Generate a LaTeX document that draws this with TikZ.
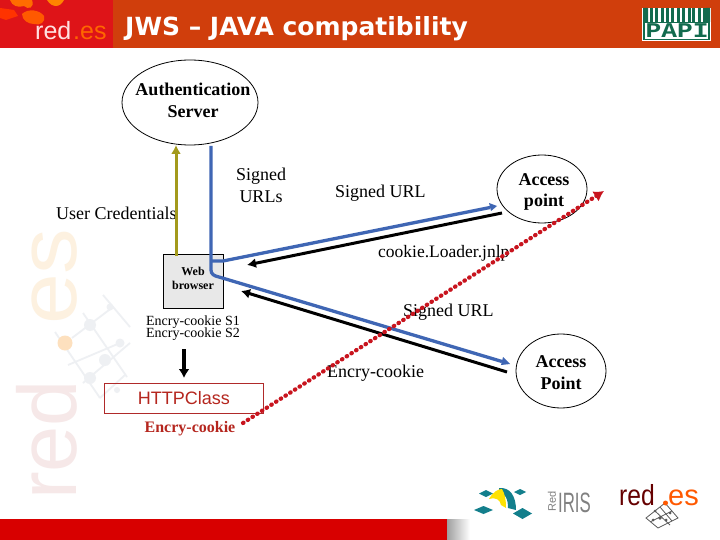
\documentclass[tikz,border=0pt]{standalone}
\usepackage{fontspec}
\setmainfont{Liberation Serif}
\setsansfont{Liberation Sans}
\setmonofont{Liberation Mono}
\newfontfamily\titlefont{DejaVu Sans}
\usetikzlibrary{arrows.meta,shapes.geometric,calc}
\definecolor{hdr}{HTML}{D03E0C}
\definecolor{logored}{HTML}{DE1418}
\definecolor{bandred}{HTML}{D80000}
\definecolor{blueline}{HTML}{3F66B4}
\definecolor{olive}{HTML}{A39A1C}
\definecolor{dotred}{HTML}{C8141E}
\definecolor{boxred}{HTML}{B02A2A}
\definecolor{textred}{HTML}{B5261E}
\definecolor{teal2}{HTML}{137F8C}
\definecolor{papi}{HTML}{136B4E}
\definecolor{wmorange}{HTML}{FDF1E0}
\definecolor{wmred}{HTML}{F6E8E8}
\definecolor{wmgray}{HTML}{EEF0F3}
\tikzset{
  x=1pt,y=-1pt,
  lbl/.style={inner sep=0pt,align=center,font=\fontsize{18}{22}\selectfont},
  lblb/.style={lbl,font=\fontsize{18}{21}\selectfont\bfseries},
  small/.style={inner sep=0pt,font=\fontsize{14}{14}\selectfont},
  ell/.style={draw=black,fill=white,ellipse,inner sep=0pt,line width=0.8pt},
  blueconn/.style={draw=blueline,line width=3.3pt},
  blackarrow/.style={draw=black,line width=3pt,-{Latex[length=9pt,width=10pt]}},
  dotarrow/.style={draw=dotred,line width=4.2pt,line cap=round,dash pattern=on 0.6pt off 5pt,-{Latex[length=10pt,width=12pt,color=dotred,fill=dotred]}},
}
\begin{document}
\begin{tikzpicture}
\useasboundingbox (0,0) rectangle (720,540);
\fill[white] (0,0) rectangle (720,540);
% header
\fill[hdr] (0,0) rectangle (720,48);
\fill[logored] (0,0) rectangle (113,48);
\fill[orange!85!yellow!90!red] (47,0) .. controls (52,8) and (60,8) .. (64,0) -- cycle;
\fill[orange!85!red] (10,0) .. controls (12,6) and (18,8) .. (24,6) .. controls (28,10) and (35,8) .. (32,0) -- cycle;
\fill[orange!70!red] (22,14) .. controls (28,8) and (40,10) .. (44,16) .. controls (46,22) and (40,26) .. (34,24) .. controls (28,24) and (22,20) .. (22,14) -- cycle;
\fill[orange!40!red] (0,8) -- (14,10) -- (18,16) -- (6,20) -- (0,18) -- cycle;
\node[inner sep=0pt,text=white!88!red,font=\sffamily\fontsize{25}{25}\selectfont,anchor=base west] (logoa) at (35,40) {red};
\node[inner sep=0pt,text=orange!80!red,font=\sffamily\fontsize{25}{25}\selectfont,anchor=base west] (logob) at (73,40) {.es};
\node[inner sep=0pt,text=white,font=\titlefont\bfseries\fontsize{25}{25}\selectfont,anchor=base west] (title) at (125,36) {JWS – JAVA compatibility};
% PAPI logo
\fill[white] (642,8) rectangle (711,41);
\foreach \xx in {650,655,661,666,671,677,682,688,692,698,703}{\fill[papi] (\xx,8) rectangle ++(2.6,14);}
\fill[papi] (643,8) rectangle (648,22) (706,8) rectangle (710,22);
\draw[papi,line width=1.6pt] (644,22) -- (644,39.5) -- (709,39.5) -- (709,22);
\draw[papi,line width=1pt] (644,23) -- (709,23);
\node[inner sep=0pt,text=papi,font=\ttfamily\bfseries\fontsize{21}{21}\selectfont,anchor=base] (papi) at (677,38) {\scalebox{1.25}[1]{PAPI}};
% watermark
\node[rotate=90,inner sep=0pt,anchor=base west,text=wmorange,font=\sffamily\fontsize{83}{83}\selectfont] (wmes) at (76,325) {\scalebox{1.1}[1]{es}};
\node[rotate=90,inner sep=0pt,anchor=base west,text=wmred,font=\sffamily\fontsize{83}{83}\selectfont] (wmr) at (76,500) {red};
\draw[wmgray,line width=1.8pt] (55,332) -- (100,398) (83,313) -- (127,377) (103,295) -- (130,327) (72,338) -- (113,307) (83,383) -- (130,343) (100,398) -- (125,375) (68,365) -- (120,343);
\fill[wmgray] (90,325) circle (6) (105,360) circle (6) (90,378) circle (6) (110,307) circle (3.5) (120,343) circle (4.5) (117,390) circle (3);
\fill[wmorange!85!orange] (65,343) circle (7.5);
% bottom
\fill[bandred] (0,519) rectangle (447,540);
\shade[left color=gray!75,right color=white] (447,519) rectangle (470,540);
% bottom logos
\fill[teal2] (479,493.5) -- (486,490) -- (493,493.5) -- (486,497) -- cycle
 (474,510) -- (483.5,506) -- (493,510) -- (483.5,514) -- cycle
 (513,513.5) -- (522.5,508) -- (532,513.5) -- (522.5,519) -- cycle
 (514,492) -- (520,489) -- (526,492) -- (520,495) -- cycle;
\fill[teal2] (499,488) .. controls (510,487) and (516,496) .. (516,510) -- (508,508) .. controls (508,498) and (505,494) .. (499,492) -- cycle;
\fill[yellow!85!orange] (489,499) .. controls (493,492) and (498,489) .. (502,489) .. controls (505,494) and (506,500) .. (506,508) -- (501,505) .. controls (500,500) and (497,497) .. (489,499) -- cycle;
\node[rotate=90,inner sep=0pt,text=gray,font=\sffamily\fontsize{11}{11}\selectfont] (lred) at (552,501) {Red};
\node[inner sep=0pt,text=gray,font=\sffamily\fontsize{28}{28}\selectfont,anchor=base] (liris) at (574.5,512) {\scalebox{.6}[1]{IRIS}};
\node[inner sep=0pt,text=red!40!black,font=\sffamily\fontsize{29}{29}\selectfont,anchor=base west] (lr2) at (619,505) {\scalebox{.85}[1]{red}};
\node[inner sep=0pt,text=orange!70!red,font=\sffamily\fontsize{29}{29}\selectfont,anchor=base west] (le2) at (668,505) {es};
\draw[gray!70!black,line width=.8pt] (646,518) -- (665,503) -- (678,518) -- (658,528) -- cycle (655,511) -- (670,525) (660,507) -- (672,521) (650,522) -- (672,511);
\fill[gray!70!black] (655,511) circle (1.5) (660,518) circle (1.8) (670,513) circle (1.5) (666,520) circle (1.5) (653,520) circle (1.5);
\fill[orange!70!red] (665.5,503) circle (2.5);
% nodes
\node[ell,minimum width=136pt,minimum height=85pt] (auth) at (190,102.5) {};
\node[lblb,font=\fontsize{18}{22}\selectfont\bfseries] (authtxt) at (193,100) {Authentication\\Server};
\node[ell,minimum width=90pt,minimum height=68pt] (ap1) at (542,189) {};
\node[lblb] (ap1txt) at (544,192) {Access\\point};
\node[ell,minimum width=90pt,minimum height=74pt] (ap2) at (561,371) {};
\node[lblb,font=\fontsize{18}{22}\selectfont\bfseries] (ap2txt) at (561,373) {Access\\Point};
\node[draw=black,fill=gray!18,line width=.8pt,minimum width=60pt,minimum height=54pt,inner sep=0pt] (web) at (193,281) {};
\node[lbl,font=\fontsize{12}{14}\selectfont\bfseries] (webtxt) at (193,278) {Web\\browser};
\node[draw=boxred,line width=.9pt,minimum width=159pt,minimum height=30pt,inner sep=0pt] (http) at (184,398) {};
\node[inner sep=0pt,text=textred,font=\sffamily\fontsize{18}{18}\selectfont] (httptxt) at (184,398) {HTTPClass};
% labels
\node[lbl] (signedurls) at (261,185) {Signed\\URLs};
\node[lbl,anchor=west] (usercred) at (56,213) {User Credentials};
\node[lbl,anchor=west] (surl1) at (335,193) {Signed URL};
\node[lbl,anchor=west,font=\fontsize{17.5}{22}\selectfont] (jnlp) at (378,253) {cookie.Loader.jnlp};
\node[lbl,anchor=west] (surl2) at (403,312) {Signed URL};
\node[lbl,anchor=west] (encry) at (327,373) {Encry-cookie};
\node[small,anchor=base] (s1) at (193,325) {Encry-cookie S1};
\node[small,anchor=base] (s2) at (193,337) {Encry-cookie S2};
\node[lbl,font=\fontsize{16}{16}\selectfont\bfseries,text=textred] (encred) at (190,429) {Encry-cookie};
% connectors
\coordinate (oliveS) at (176,256);
\coordinate (oliveE) at (176,145);
\draw[draw=olive,line width=3pt,-{Latex[length=9pt,width=10pt]}] (oliveS) -- (oliveE);
\coordinate (bS) at (211,146);
\coordinate (bE1) at (497,206);
\coordinate (bE2) at (510,364);
\draw[blueconn] (bS) -- (211,270) .. controls (211,274) and (214,276) .. (219,277) -- (502,361.5);
\draw[blueconn] (211,261) -- (223,261) -- (490,207.5);
\fill[blueline] (bE1) -- (489,203) -- (491,211) -- cycle;
\fill[blueline] (bE2) -- (503,357) -- (501,365) -- cycle;
\coordinate (k1S) at (502,213);
\coordinate (k1E) at (247,265);
\draw[blackarrow] (k1S) -- (k1E);
\coordinate (k2S) at (507,372);
\coordinate (k2E) at (241,291);
\draw[blackarrow] (k2S) -- (k2E);
\coordinate (dS) at (243,423);
\coordinate (dE) at (604,191);
\draw[dotarrow] (dS) -- (dE);
\coordinate (dnS) at (184,349);
\coordinate (dnE) at (184,378);
\draw[draw=black,line width=3.4pt,-{Latex[length=9pt,width=11pt]}] (dnS) -- (dnE);
\end{tikzpicture}
\end{document}
